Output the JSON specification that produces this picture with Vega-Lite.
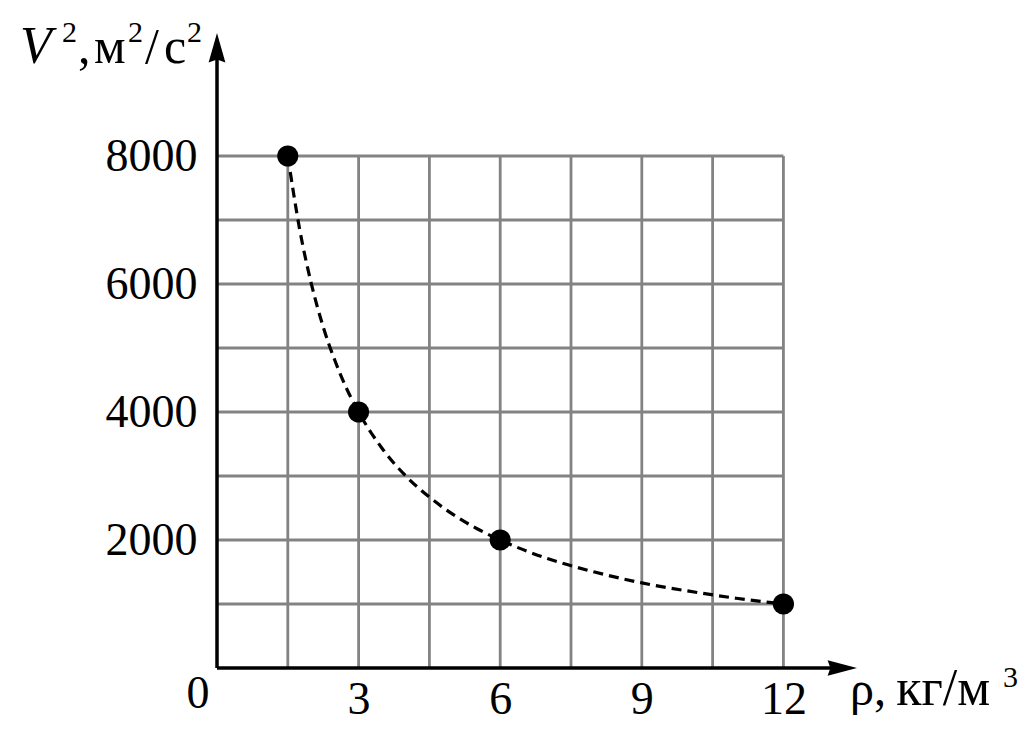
{
  "$schema": "https://vega.github.io/schema/vega-lite/v6.json",
  "width": 640,
  "height": 635,
  "autosize": "none",
  "padding": {"left": 217, "top": 33, "right": 168, "bottom": 66},
  "background": "white",
  "config": {
    "view": {"stroke": null},
    "axis": {"domain": false, "ticks": false, "tickSize": 0, "grid": false, "labelFont": "Liberation Serif", "labelFontSize": 46,
      "labelColor": "black", "labelFlush": false, "labelOverlap": false},
    "axisX": {"labelPadding": 9},
    "axisY": {"labelPadding": 20},
    "text": {"font": "Liberation Serif", "color": "black", "align": "left", "baseline": "alphabetic", "fontSize": 50}
  },
  "data": {"values": [{}]},
  "datasets": {
    "vgrid": [
      {"x": 1.5, "y": 0, "y2": 8000}, {"x": 3, "y": 0, "y2": 8000}, {"x": 4.5, "y": 0, "y2": 8000},
      {"x": 6, "y": 0, "y2": 8000}, {"x": 7.5, "y": 0, "y2": 8000}, {"x": 9, "y": 0, "y2": 8000},
      {"x": 10.5, "y": 0, "y2": 8000}, {"x": 12, "y": 0, "y2": 8000}
    ],
    "hgrid": [
      {"y": 1000, "x": 0, "x2": 12}, {"y": 2000, "x": 0, "x2": 12}, {"y": 3000, "x": 0, "x2": 12},
      {"y": 4000, "x": 0, "x2": 12}, {"y": 5000, "x": 0, "x2": 12}, {"y": 6000, "x": 0, "x2": 12},
      {"y": 7000, "x": 0, "x2": 12}, {"y": 8000, "x": 0, "x2": 12}
    ],
    "curve": [
      {"rho": 1.5, "v2": 8000}, {"rho": 1.75, "v2": 6860}, {"rho": 2, "v2": 6000}, {"rho": 2.25, "v2": 5330},
      {"rho": 2.5, "v2": 4800}, {"rho": 2.75, "v2": 4360}, {"rho": 3, "v2": 4000}, {"rho": 3.5, "v2": 3430},
      {"rho": 4, "v2": 3000}, {"rho": 4.5, "v2": 2670}, {"rho": 5, "v2": 2400}, {"rho": 5.5, "v2": 2180},
      {"rho": 6, "v2": 2000}, {"rho": 7, "v2": 1710}, {"rho": 8, "v2": 1500}, {"rho": 9, "v2": 1330},
      {"rho": 10, "v2": 1200}, {"rho": 11, "v2": 1090}, {"rho": 12, "v2": 1000}
    ],
    "points": [
      {"rho": 1.5, "v2": 8000}, {"rho": 3, "v2": 4000}, {"rho": 6, "v2": 2000}, {"rho": 12, "v2": 1000}
    ]
  },
  "layer": [
    {
      "data": {"name": "vgrid"},
      "mark": {"type": "rule", "color": "#838383", "strokeWidth": 2.8},
      "encoding": {
        "x": {"field": "x", "type": "quantitative", "scale": {"domain": [0, 13.559], "nice": false, "zero": false}, "axis": {"title": null, "values": [3, 6, 9, 12], "format": "d"}},
        "y": {"field": "y", "type": "quantitative", "scale": {"domain": [0, 9922], "nice": false, "zero": false}, "axis": {"title": null, "values": [2000, 4000, 6000, 8000], "format": "d"}},
        "y2": {"field": "y2"}
      }
    },
    {
      "data": {"name": "hgrid"},
      "mark": {"type": "rule", "color": "#838383", "strokeWidth": 2.8},
      "encoding": {
        "x": {"field": "x", "type": "quantitative", "scale": {"domain": [0, 13.559], "nice": false, "zero": false}, "axis": {"title": null, "values": [3, 6, 9, 12], "format": "d"}},
        "x2": {"field": "x2"},
        "y": {"field": "y", "type": "quantitative", "scale": {"domain": [0, 9922], "nice": false, "zero": false}, "axis": {"title": null, "values": [2000, 4000, 6000, 8000], "format": "d"}}
      }
    },
    {
      "mark": {"type": "rule", "color": "black", "strokeWidth": 3.5},
      "encoding": {
        "x": {"datum": 0, "type": "quantitative", "scale": {"domain": [0, 13.559], "nice": false, "zero": false}, "axis": {"title": null, "values": [3, 6, 9, 12], "format": "d"}},
        "y": {"datum": 0, "type": "quantitative", "scale": {"domain": [0, 9922], "nice": false, "zero": false}, "axis": {"title": null, "values": [2000, 4000, 6000, 8000], "format": "d"}},
        "y2": {"datum": 9600}
      }
    },
    {
      "mark": {"type": "rule", "color": "black", "strokeWidth": 3.5},
      "encoding": {
        "x": {"datum": 0, "type": "quantitative", "scale": {"domain": [0, 13.559], "nice": false, "zero": false}, "axis": {"title": null, "values": [3, 6, 9, 12], "format": "d"}},
        "x2": {"datum": 13.2},
        "y": {"datum": 0, "type": "quantitative", "scale": {"domain": [0, 9922], "nice": false, "zero": false}, "axis": {"title": null, "values": [2000, 4000, 6000, 8000], "format": "d"}}
      }
    },
    {
      "mark": {"type": "point", "filled": true, "color": "black", "opacity": 1, "size": 784, "shape": "M0,0L0.6,2.1L0,1.9L-0.6,2.1Z"},
      "encoding": {
        "x": {"datum": 0, "type": "quantitative", "scale": {"domain": [0, 13.559], "nice": false, "zero": false}, "axis": {"title": null, "values": [3, 6, 9, 12], "format": "d"}},
        "y": {"datum": 9922, "type": "quantitative", "scale": {"domain": [0, 9922], "nice": false, "zero": false}, "axis": {"title": null, "values": [2000, 4000, 6000, 8000], "format": "d"}}
      }
    },
    {
      "mark": {"type": "point", "filled": true, "color": "black", "opacity": 1, "size": 784, "shape": "M0,0L-2.1,-0.55L-1.9,0L-2.1,0.55Z"},
      "encoding": {
        "x": {"datum": 13.559, "type": "quantitative", "scale": {"domain": [0, 13.559], "nice": false, "zero": false}, "axis": {"title": null, "values": [3, 6, 9, 12], "format": "d"}},
        "y": {"datum": 0, "type": "quantitative", "scale": {"domain": [0, 9922], "nice": false, "zero": false}, "axis": {"title": null, "values": [2000, 4000, 6000, 8000], "format": "d"}}
      }
    },
    {
      "data": {"name": "curve"},
      "mark": {"type": "line", "color": "black", "strokeWidth": 3.2, "strokeDash": [10, 6], "interpolate": "monotone"},
      "encoding": {
        "x": {"field": "rho", "type": "quantitative", "scale": {"domain": [0, 13.559], "nice": false, "zero": false}, "axis": {"title": null, "values": [3, 6, 9, 12], "format": "d"}},
        "y": {"field": "v2", "type": "quantitative", "scale": {"domain": [0, 9922], "nice": false, "zero": false}, "axis": {"title": null, "values": [2000, 4000, 6000, 8000], "format": "d"}}
      }
    },
    {
      "data": {"name": "points"},
      "mark": {"type": "circle", "color": "black", "opacity": 1, "size": 450},
      "encoding": {
        "x": {"field": "rho", "type": "quantitative", "scale": {"domain": [0, 13.559], "nice": false, "zero": false}, "axis": {"title": null, "values": [3, 6, 9, 12], "format": "d"}},
        "y": {"field": "v2", "type": "quantitative", "scale": {"domain": [0, 9922], "nice": false, "zero": false}, "axis": {"title": null, "values": [2000, 4000, 6000, 8000], "format": "d"}}
      }
    },
    {
      "mark": {"type": "text", "fontSize": 46, "align": "center"},
      "encoding": {
        "x": {"datum": -0.403, "type": "quantitative", "scale": {"domain": [0, 13.559], "nice": false, "zero": false}, "axis": {"title": null, "values": [3, 6, 9, 12], "format": "d"}},
        "y": {"datum": -625, "type": "quantitative", "scale": {"domain": [0, 9922], "nice": false, "zero": false}, "axis": {"title": null, "values": [2000, 4000, 6000, 8000], "format": "d"}},
        "text": {"value": "0"}
      }
    },
    {
      "mark": {"type": "text", "fontStyle": "italic", "fontSize": 52},
      "encoding": {
        "x": {"datum": -4.174, "type": "quantitative", "scale": {"domain": [0, 13.559], "nice": false, "zero": false}, "axis": {"title": null, "values": [3, 6, 9, 12], "format": "d"}},
        "y": {"datum": 9453, "type": "quantitative", "scale": {"domain": [0, 9922], "nice": false, "zero": false}, "axis": {"title": null, "values": [2000, 4000, 6000, 8000], "format": "d"}},
        "text": {"value": "V"}
      }
    },
    {
      "mark": {"type": "text", "fontSize": 30},
      "encoding": {
        "x": {"datum": -3.284, "type": "quantitative", "scale": {"domain": [0, 13.559], "nice": false, "zero": false}, "axis": {"title": null, "values": [3, 6, 9, 12], "format": "d"}},
        "y": {"datum": 9781, "type": "quantitative", "scale": {"domain": [0, 9922], "nice": false, "zero": false}, "axis": {"title": null, "values": [2000, 4000, 6000, 8000], "format": "d"}},
        "text": {"value": "2"}
      }
    },
    {
      "mark": {"type": "text"},
      "encoding": {
        "x": {"datum": -2.945, "type": "quantitative", "scale": {"domain": [0, 13.559], "nice": false, "zero": false}, "axis": {"title": null, "values": [3, 6, 9, 12], "format": "d"}},
        "y": {"datum": 9453, "type": "quantitative", "scale": {"domain": [0, 9922], "nice": false, "zero": false}, "axis": {"title": null, "values": [2000, 4000, 6000, 8000], "format": "d"}},
        "text": {"value": ","}
      }
    },
    {
      "mark": {"type": "text"},
      "encoding": {
        "x": {"datum": -2.606, "type": "quantitative", "scale": {"domain": [0, 13.559], "nice": false, "zero": false}, "axis": {"title": null, "values": [3, 6, 9, 12], "format": "d"}},
        "y": {"datum": 9453, "type": "quantitative", "scale": {"domain": [0, 9922], "nice": false, "zero": false}, "axis": {"title": null, "values": [2000, 4000, 6000, 8000], "format": "d"}},
        "text": {"value": "м"}
      }
    },
    {
      "mark": {"type": "text", "fontSize": 30},
      "encoding": {
        "x": {"datum": -1.886, "type": "quantitative", "scale": {"domain": [0, 13.559], "nice": false, "zero": false}, "axis": {"title": null, "values": [3, 6, 9, 12], "format": "d"}},
        "y": {"datum": 9781, "type": "quantitative", "scale": {"domain": [0, 9922], "nice": false, "zero": false}, "axis": {"title": null, "values": [2000, 4000, 6000, 8000], "format": "d"}},
        "text": {"value": "2"}
      }
    },
    {
      "mark": {"type": "text"},
      "encoding": {
        "x": {"datum": -1.525, "type": "quantitative", "scale": {"domain": [0, 13.559], "nice": false, "zero": false}, "axis": {"title": null, "values": [3, 6, 9, 12], "format": "d"}},
        "y": {"datum": 9453, "type": "quantitative", "scale": {"domain": [0, 9922], "nice": false, "zero": false}, "axis": {"title": null, "values": [2000, 4000, 6000, 8000], "format": "d"}},
        "text": {"value": "/"}
      }
    },
    {
      "mark": {"type": "text"},
      "encoding": {
        "x": {"datum": -1.123, "type": "quantitative", "scale": {"domain": [0, 13.559], "nice": false, "zero": false}, "axis": {"title": null, "values": [3, 6, 9, 12], "format": "d"}},
        "y": {"datum": 9453, "type": "quantitative", "scale": {"domain": [0, 9922], "nice": false, "zero": false}, "axis": {"title": null, "values": [2000, 4000, 6000, 8000], "format": "d"}},
        "text": {"value": "с"}
      }
    },
    {
      "mark": {"type": "text", "fontSize": 30},
      "encoding": {
        "x": {"datum": -0.636, "type": "quantitative", "scale": {"domain": [0, 13.559], "nice": false, "zero": false}, "axis": {"title": null, "values": [3, 6, 9, 12], "format": "d"}},
        "y": {"datum": 9781, "type": "quantitative", "scale": {"domain": [0, 9922], "nice": false, "zero": false}, "axis": {"title": null, "values": [2000, 4000, 6000, 8000], "format": "d"}},
        "text": {"value": "2"}
      }
    },
    {
      "mark": {"type": "text", "fontSize": 48},
      "encoding": {
        "x": {"datum": 13.41, "type": "quantitative", "scale": {"domain": [0, 13.559], "nice": false, "zero": false}, "axis": {"title": null, "values": [3, 6, 9, 12], "format": "d"}},
        "y": {"datum": -578, "type": "quantitative", "scale": {"domain": [0, 9922], "nice": false, "zero": false}, "axis": {"title": null, "values": [2000, 4000, 6000, 8000], "format": "d"}},
        "text": {"value": "ρ,"}
      }
    },
    {
      "mark": {"type": "text", "fontSize": 52},
      "encoding": {
        "x": {"datum": 14.39, "type": "quantitative", "scale": {"domain": [0, 13.559], "nice": false, "zero": false}, "axis": {"title": null, "values": [3, 6, 9, 12], "format": "d"}},
        "y": {"datum": -578, "type": "quantitative", "scale": {"domain": [0, 9922], "nice": false, "zero": false}, "axis": {"title": null, "values": [2000, 4000, 6000, 8000], "format": "d"}},
        "text": {"value": "кг/м"}
      }
    },
    {
      "mark": {"type": "text", "fontSize": 30},
      "encoding": {
        "x": {"datum": 16.653, "type": "quantitative", "scale": {"domain": [0, 13.559], "nice": false, "zero": false}, "axis": {"title": null, "values": [3, 6, 9, 12], "format": "d"}},
        "y": {"datum": -297, "type": "quantitative", "scale": {"domain": [0, 9922], "nice": false, "zero": false}, "axis": {"title": null, "values": [2000, 4000, 6000, 8000], "format": "d"}},
        "text": {"value": "3"}
      }
    }
  ]
}
